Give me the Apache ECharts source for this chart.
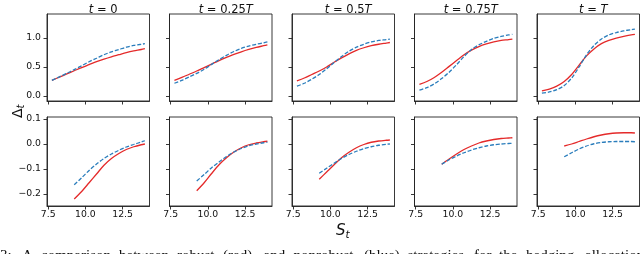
<!DOCTYPE html>
<html><head><meta charset="utf-8">
<script src="https://cdn.jsdelivr.net/npm/echarts@6/dist/echarts.min.js"></script>
<style>html,body{margin:0;padding:0;background:#fff;}#c{width:640px;height:254px;}</style>
</head><body><div id="c"></div>
<script>
// ---- data ----
const panelTitles = ['{i|t} = 0', '{i|t} = 0.25{i|T}', '{i|t} = 0.5{i|T}', '{i|t} = 0.75{i|T}', '{i|t} = {i|T}'];
const xTicks = [7.5, 10.0, 12.5];
const yTicksTop = [0.0, 0.5, 1.0];
const yTicksBottom = [-0.2, -0.1, 0.0, 0.1];

const xTop = [7.75, 8.25, 8.75, 9.25, 9.75, 10.25, 10.75, 11.25, 11.75, 12.25, 12.75, 13.25, 13.75, 14.0];
const robustTop0 = [0.27, 0.325, 0.38, 0.435, 0.49, 0.54, 0.59, 0.635, 0.675, 0.71, 0.745, 0.775, 0.80, 0.815];
const nonrobustTop0 = [0.27, 0.33, 0.39, 0.455, 0.52, 0.59, 0.65, 0.71, 0.76, 0.80, 0.84, 0.87, 0.89, 0.90];
const robustTop1 = [0.27, 0.32, 0.375, 0.43, 0.49, 0.55, 0.61, 0.665, 0.715, 0.76, 0.80, 0.835, 0.865, 0.88];
const nonrobustTop1 = [0.22, 0.27, 0.33, 0.39, 0.46, 0.545, 0.625, 0.70, 0.765, 0.82, 0.86, 0.89, 0.915, 0.93];
const robustTop2 = [0.26, 0.31, 0.37, 0.43, 0.50, 0.58, 0.655, 0.725, 0.785, 0.83, 0.865, 0.89, 0.91, 0.92];
const nonrobustTop2 = [0.17, 0.22, 0.29, 0.37, 0.47, 0.575, 0.68, 0.77, 0.84, 0.89, 0.93, 0.955, 0.97, 0.98];
const robustTop3 = [0.20, 0.25, 0.32, 0.41, 0.51, 0.61, 0.71, 0.79, 0.85, 0.895, 0.93, 0.955, 0.97, 0.98];
const nonrobustTop3 = [0.10, 0.145, 0.21, 0.30, 0.41, 0.54, 0.68, 0.80, 0.88, 0.94, 0.99, 1.025, 1.05, 1.06];
const robustTop4 = [0.09, 0.12, 0.17, 0.25, 0.37, 0.53, 0.69, 0.81, 0.90, 0.955, 0.995, 1.025, 1.05, 1.06];
const nonrobustTop4 = [0.05, 0.07, 0.11, 0.18, 0.31, 0.50, 0.71, 0.87, 0.98, 1.05, 1.09, 1.12, 1.14, 1.15];

const xBottom = [9.25, 9.75, 10.25, 10.75, 11.25, 11.75, 12.25, 12.75, 13.25, 13.75, 14.0];
const robustBottom0 = [-0.22, -0.19, -0.155, -0.12, -0.085, -0.058, -0.038, -0.022, -0.011, -0.003, 0.0];
const nonrobustBottom0 = [-0.163, -0.135, -0.106, -0.08, -0.058, -0.04, -0.025, -0.012, -0.002, 0.008, 0.013];
const robustBottom1 = [-0.187, -0.155, -0.118, -0.083, -0.055, -0.032, -0.015, -0.003, 0.004, 0.009, 0.011];
const nonrobustBottom1 = [-0.148, -0.122, -0.095, -0.072, -0.05, -0.032, -0.018, -0.007, 0.0, 0.005, 0.007];
const robustBottom2 = [-0.141, -0.112, -0.083, -0.055, -0.033, -0.015, -0.002, 0.007, 0.012, 0.015, 0.016];
const nonrobustBottom2 = [-0.117, -0.097, -0.077, -0.058, -0.042, -0.029, -0.019, -0.011, -0.005, -0.001, 0.0];
const robustBottom3 = [-0.081, -0.06, -0.04, -0.022, -0.008, 0.004, 0.012, 0.018, 0.022, 0.024, 0.025];
const nonrobustBottom3 = [-0.081, -0.063, -0.048, -0.035, -0.024, -0.015, -0.008, -0.003, 0.0, 0.002, 0.003];
const robustBottom4 = [-0.008, 0.0, 0.01, 0.02, 0.029, 0.036, 0.041, 0.044, 0.045, 0.045, 0.044];
const nonrobustBottom4 = [-0.051, -0.035, -0.02, -0.008, 0.001, 0.006, 0.009, 0.01, 0.01, 0.01, 0.009];

const captionWords = ['3:', 'A', 'comparison', 'between', 'robust', '(red)', 'and', 'nonrobust', '(blue)', 'strategies', 'for', 'the', 'hedging', 'allocation'];
const captionX = [0, 22, 41, 119, 177, 223, 263.5, 293.5, 364, 407.5, 474, 499, 526, 585];

// ---- layout / style ----
const robustSets = [[robustTop0, robustTop1, robustTop2, robustTop3, robustTop4], [robustBottom0, robustBottom1, robustBottom2, robustBottom3, robustBottom4]];
const nonrobustSets = [[nonrobustTop0, nonrobustTop1, nonrobustTop2, nonrobustTop3, nonrobustTop4], [nonrobustBottom0, nonrobustBottom1, nonrobustBottom2, nonrobustBottom3, nonrobustBottom4]];
const xSets = [xTop, xBottom];
const lefts = [47, 169.5, 292, 414.5, 537];
const W = 102.5;
const rowTop = [14, 117], rowH = [87, 89];
const yMin = [-0.085, -0.248], yMax = [1.41, 0.108];
const yTickSets = [yTicksTop, yTicksBottom];
const FONT = 'DejaVu Sans';
const fmt = v => (v < 0 ? '\u2212' : '') + Math.abs(v).toFixed(1);
const zip = (xs, ys) => xs.map((x, i) => [x, ys[i]]);

const grid = [], xAxis = [], yAxis = [], series = [], title = [];
for (let r = 0; r < 2; r++) {
  for (let c = 0; c < 5; c++) {
    const idx = r * 5 + c;
    grid.push({left: lefts[c], top: rowTop[r], width: W, height: rowH[r], show: true, borderColor: '#222', borderWidth: 0.9, backgroundColor: 'transparent', containLabel: false, outerBoundsMode: 'none'});
    xAxis.push({gridIndex: idx, type: 'value', min: 7.42, max: 14.31,
      axisLine: {show: true, onZero: false, lineStyle: {color: '#222', width: 0.9}},
      axisTick: {show: true, length: 3.5, customValues: xTicks, lineStyle: {color: '#222', width: 0.9}},
      axisLabel: {show: r === 1, customValues: xTicks, formatter: fmt, fontFamily: FONT, fontSize: 9.3, color: '#111', margin: 4.5},
      splitLine: {show: false}});
    yAxis.push({gridIndex: idx, type: 'value', min: yMin[r], max: yMax[r],
      axisLine: {show: true, onZero: false, lineStyle: {color: '#222', width: 0.9}},
      axisTick: {show: true, length: 3.5, customValues: yTickSets[r], lineStyle: {color: '#222', width: 0.9}},
      axisLabel: {show: c === 0, customValues: yTickSets[r], formatter: fmt, fontFamily: FONT, fontSize: 9.3, color: '#111', margin: 6},
      splitLine: {show: false}});
    series.push({type: 'line', xAxisIndex: idx, yAxisIndex: idx, data: zip(xSets[r], robustSets[r][c]), showSymbol: false, smooth: 0.3, lineStyle: {color: '#e42a2a', width: 1.3}, z: 3});
    series.push({type: 'line', xAxisIndex: idx, yAxisIndex: idx, data: zip(xSets[r], nonrobustSets[r][c]), showSymbol: false, smooth: 0.3, lineStyle: {color: '#2a7dbc', width: 1.3, type: [4, 1.8]}, z: 4});
    if (r === 0) {
      title.push({text: panelTitles[c], left: lefts[c] + W / 2, top: -1, textAlign: 'center',
        textStyle: {fontFamily: FONT, fontSize: 11.5, fontWeight: 'normal', color: '#111', rich: {i: {fontFamily: FONT, fontStyle: 'italic', fontSize: 11.5, color: '#111'}}}});
    }
  }
}

const graphic = [
  {type: 'text', x: 10, y: 118, rotation: Math.PI / 2, style: {text: 'Δ{s|t}', fontFamily: FONT, fontSize: 14, fill: '#111', textVerticalAlign: 'top',
    rich: {s: {fontFamily: FONT, fontStyle: 'italic', fontSize: 10, fill: '#111', verticalAlign: 'bottom', padding: [6, 0, 0, 0]}}}},
  {type: 'text', x: 336, y: 222, style: {text: '{m|S}{s|t}', fontFamily: FONT, fill: '#111',
    rich: {m: {fontFamily: FONT, fontStyle: 'italic', fontSize: 15, fill: '#111'}, s: {fontFamily: FONT, fontStyle: 'italic', fontSize: 10.5, fill: '#111', padding: [8, 0, 0, 0]}}}}
];
captionWords.forEach((w, i) => graphic.push({type: 'text', x: captionX[i], y: 248.3, style: {text: w, fontFamily: 'Liberation Serif', fontSize: 15, fill: '#111', textVerticalAlign: 'top'}}));

const chart = echarts.init(document.getElementById('c'), null, {renderer: 'canvas'});
chart.setOption({animation: false, backgroundColor: '#fff', title, grid, xAxis, yAxis, series, graphic});
</script></body></html>
